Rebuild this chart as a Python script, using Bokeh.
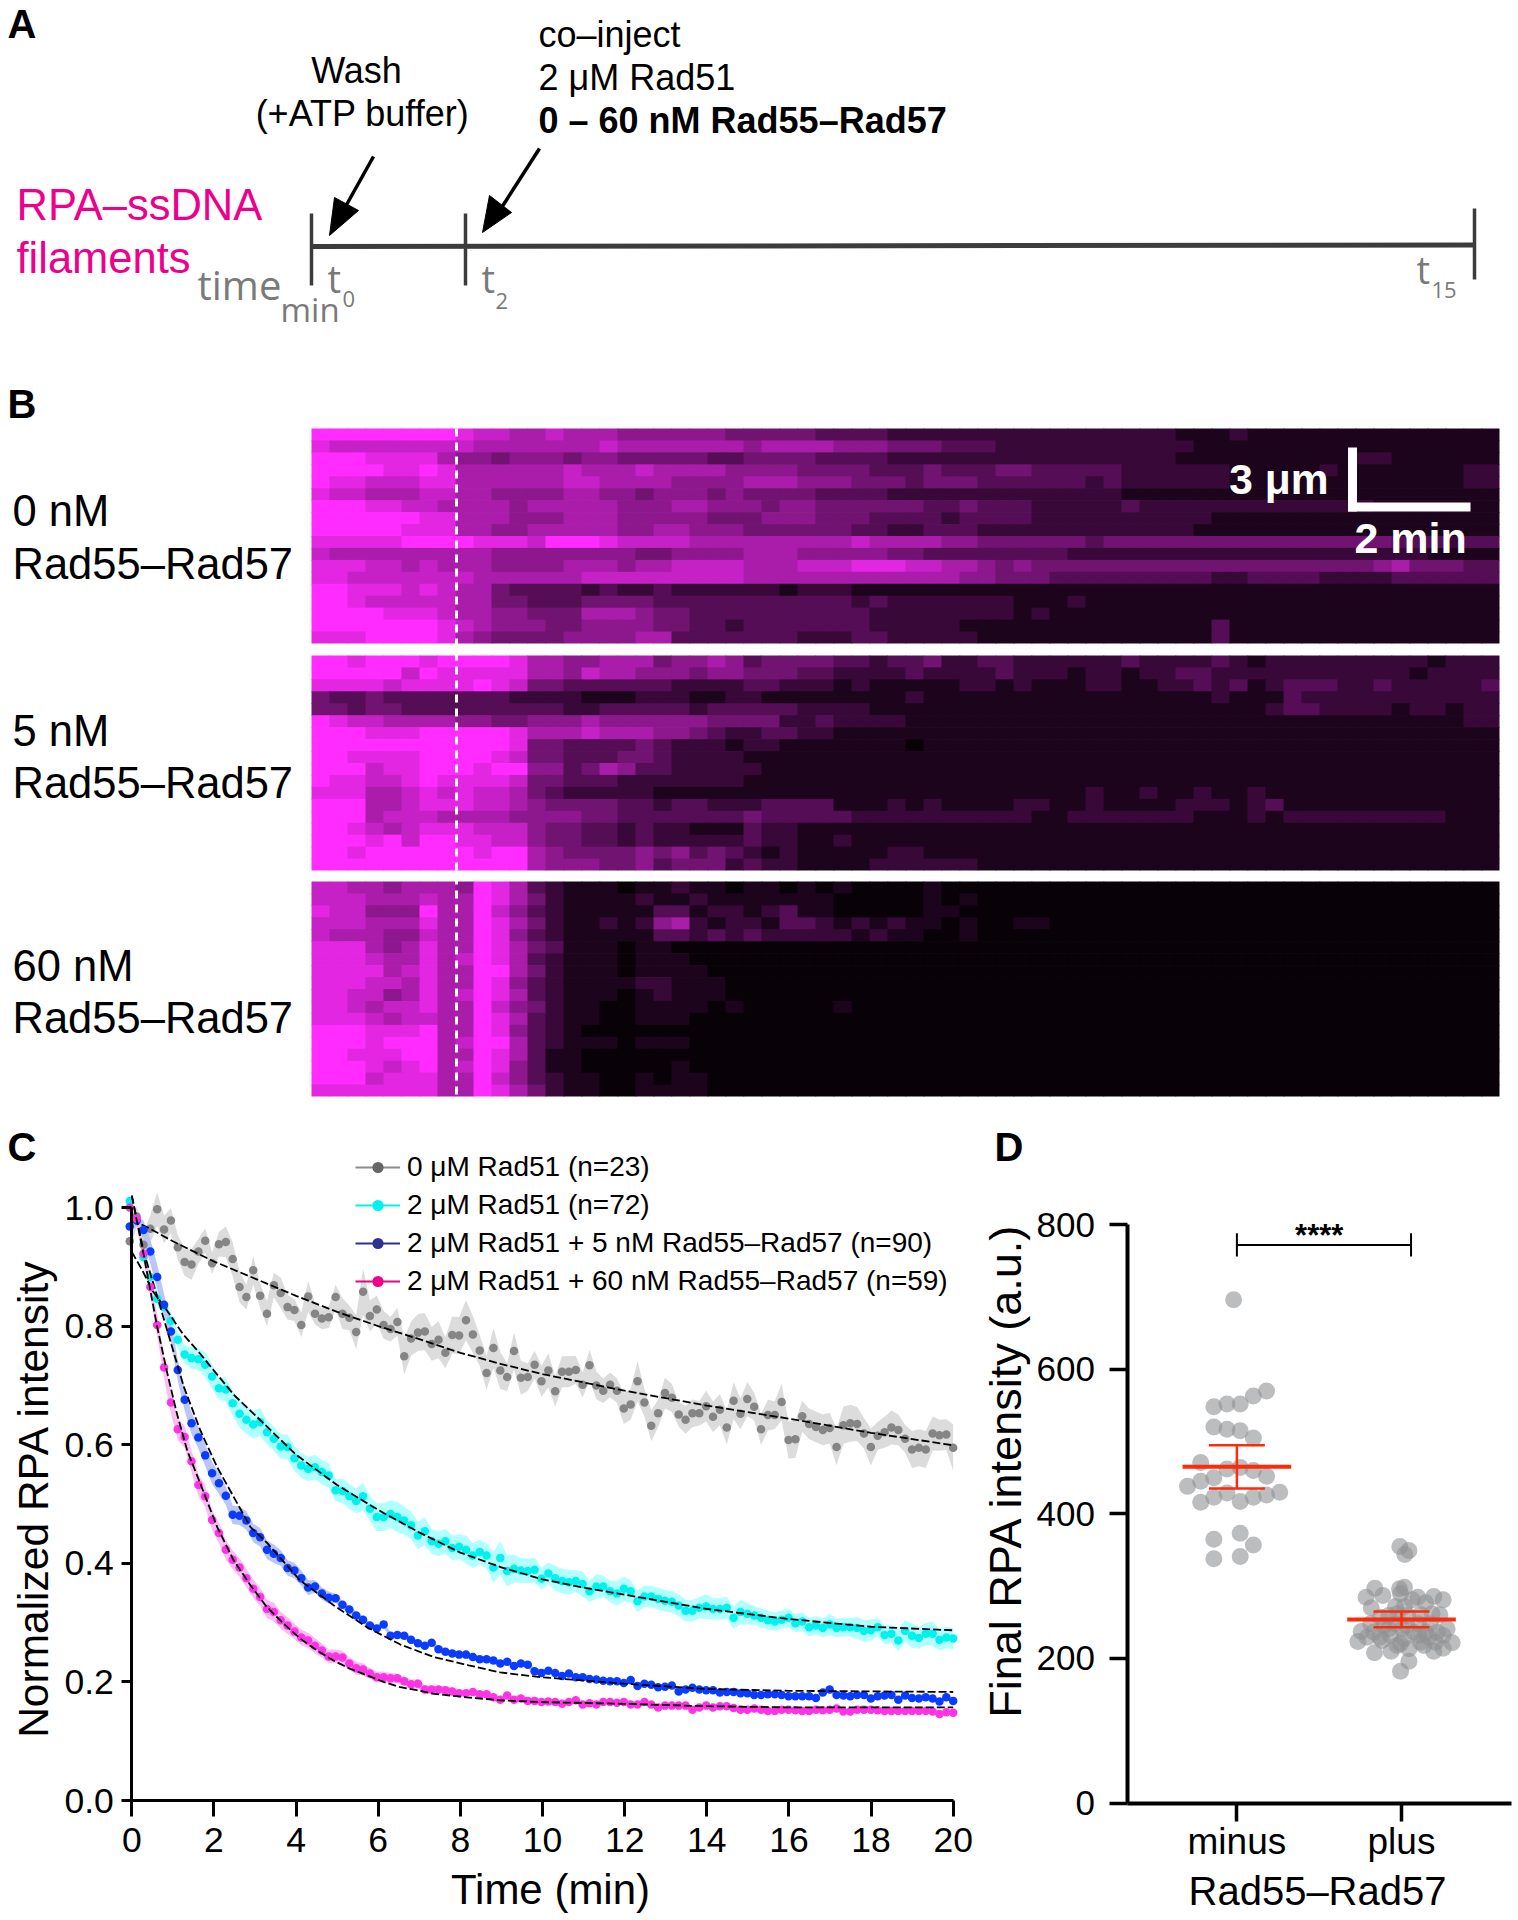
import numpy as np
from bokeh.plotting import figure
from bokeh.layouts import column, row
from bokeh.models import Range1d, Legend, LegendItem, FixedTicker
from bokeh.core.properties import value
from bokeh.embed import file_html
from bokeh.resources import INLINE

SANS = "Liberation Sans"
SOFT = "Open Sans"

# ---------------------------------------------------- panel C values
gray_vals = [.943,.985,.937,.964,.997,.963,.978,.933,.908,.904,.926,.944,.906,.938,.942,.913,.866,.849,.894,.851,.821,.869,.856,.832,.827,.802,.850,.821,.813,.815,.849,.821,.814,.790,.858,.817,.828,.802,.795,.807,.749,.779,.789,.791,.770,.777,.755,.785,.784,.810,.786,.759,.721,.763,.725,.714,.758,.713,.714,.735,.707,
 .725,.690,.723,.723,.726,.701,.734,.700,.691,.701,.691,.661,.668,.707,.671,.632,.653,.687,.679,.651,.642,.653,.653,.665,.647,.659,.629,.674,.652,.677,.664,.626,.650,.650,.672,.608,.609,.648,.635,.630,.625,.628,.596,.633,.636,.635,.619,.596,.615,.621,.629,.625,.610,.592,.595,.592,.619,.616,.617,.595]
cyan_vals = [1.011,.978,.916,.883,.846,.832,.809,.777,.752,.746,.744,.735,.715,.695,.693,.670,.652,.642,.634,.638,.621,.610,.597,.596,.577,.565,.559,.562,.554,.548,.523,.522,.513,.505,.513,.492,.478,.478,.483,.478,.472,.464,.447,.454,.437,.433,.437,.426,.428,.423,.413,.419,.413,.393,.409,.387,.391,.388,.387,.389,.374,
 .383,.375,.370,.368,.370,.365,.353,.361,.361,.353,.349,.357,.353,.336,.344,.344,.340,.337,.335,.329,.320,.320,.325,.327,.323,.323,.325,.308,.318,.315,.312,.308,.304,.302,.305,.308,.299,.302,.292,.295,.291,.297,.291,.292,.292,.291,.286,.287,.292,.279,.281,.270,.286,.278,.274,.281,.281,.271,.275,.273]
blue_vals = [.968,.978,.962,.926,.883,.836,.791,.726,.676,.636,.612,.582,.552,.535,.514,.482,.480,.472,.451,.444,.423,.416,.409,.392,.388,.375,.359,.361,.349,.342,.341,.330,.322,.312,.305,.295,.290,.297,.278,.279,.278,.271,.265,.261,.266,.255,.251,.248,.246,.246,.242,.238,.238,.236,.231,.234,.227,.231,.229,.218,.215,
 .219,.215,.210,.214,.208,.208,.205,.204,.202,.201,.201,.198,.203,.193,.197,.195,.191,.192,.194,.184,.187,.190,.187,.186,.186,.182,.183,.183,.181,.181,.178,.178,.179,.179,.178,.176,.176,.176,.176,.173,.182,.187,.178,.177,.176,.178,.178,.172,.176,.177,.178,.170,.177,.173,.172,.174,.172,.167,.174,.168]
magenta_vals = [1.0,.981,.922,.866,.802,.730,.671,.626,.613,.572,.532,.513,.473,.451,.423,.406,.393,.375,.357,.343,.323,.318,.304,.295,.285,.275,.270,.261,.253,.243,.243,.241,.231,.223,.221,.214,.208,.208,.206,.206,.201,.196,.197,.187,.187,.187,.186,.184,.181,.181,.183,.179,.179,.174,.170,.177,.170,.172,.168,.168,.166,
 .167,.166,.163,.166,.169,.162,.164,.162,.166,.166,.165,.166,.162,.162,.166,.162,.157,.160,.160,.160,.160,.153,.157,.160,.157,.159,.159,.156,.153,.153,.155,.153,.151,.151,.153,.153,.152,.151,.151,.153,.152,.153,.155,.150,.150,.153,.153,.153,.152,.151,.151,.151,.151,.151,.151,.151,.150,.146,.149,.148]

gray_sem = [.012,.014,.016,.018,.022,.018,.016,.016,.018,.020,.016,.016,.014,.016,.020,.022,.020,.016,.018,.016,.016,.016,.020,.016,.014,.016,.020,.014,.014,.014,.016,.020,.016,.022,.030,.020,.018,.018,.016,.018,.024,.022,.024,.024,.022,.024,.020,.024,.024,.026,.024,.020,.022,.026,.024,.018,.024,.022,.018,.018,.020,
 .022,.020,.020,.020,.018,.016,.020,.018,.016,.016,.016,.020,.020,.026,.018,.020,.018,.020,.018,.016,.018,.018,.016,.020,.020,.020,.022,.024,.020,.022,.018,.020,.020,.018,.024,.024,.024,.020,.020,.020,.020,.020,.024,.024,.024,.022,.020,.024,.018,.020,.022,.020,.018,.024,.024,.024,.022,.020,.020,.030]
cyan_sem = [.006,.008,.008,.008,.010,.010,.010,.010,.012,.014,.014,.016,.016,.014,.016,.016,.018,.018,.018,.018,.016,.016,.016,.016,.016,.016,.016,.016,.016,.016,.014,.016,.016,.016,.018,.016,.018,.018,.018,.020,.018,.018,.018,.018,.016,.016,.016,.016,.016,.018,.016,.016,.016,.020,.022,.020,.018,.016,.016,.016,.014,
 .014,.016,.016,.016,.014,.016,.014,.016,.014,.014,.016,.016,.014,.014,.014,.014,.014,.014,.014,.014,.014,.014,.014,.016,.014,.014,.014,.014,.016,.014,.012,.012,.012,.012,.012,.012,.012,.012,.012,.012,.012,.014,.012,.012,.012,.014,.014,.014,.012,.012,.012,.014,.014,.016,.014,.014,.016,.014,.014,.014]
blue_sem = [.006,.008,.012,.016,.016,.014,.014,.014,.014,.014,.014,.014,.014,.014,.012,.012,.012,.012,.012,.012,.012,.012,.010,.010,.010,.010,.010,.008,.008,.008,.006,.005,.005,.005,.004,.004,.004,.004,.004,.004,.004,.004,.004,.004,.004,.004,.004,.004,.004,.004,.004,.004,.004,.004,.004,.004,.004,.004,.004,.004,.004,
 .003,.003,.003,.003,.003,.003,.003,.003,.003,.003,.003,.003,.003,.003,.003,.003,.003,.003,.003,.003,.003,.003,.003,.003,.003,.003,.003,.003,.003,.003,.003,.003,.003,.003,.003,.003,.003,.003,.003,.003,.003,.003,.003,.003,.003,.003,.003,.003,.003,.003,.003,.003,.003,.003,.003,.003,.003,.003,.003,.003]
magenta_sem = [.006,.008,.010,.012,.014,.014,.014,.014,.014,.014,.014,.014,.013,.013,.013,.012,.012,.012,.012,.012,.012,.012,.011,.011,.010,.010,.010,.010,.009,.009,.009,.009,.008,.008,.008,.007,.007,.007,.007,.006,.006,.006,.006,.006,.005,.005,.005,.005,.005,.004,.004,.004,.004,.004,.004,.004,.004,.004,.004,.004,.004,
 .004,.004,.004,.004,.004,.004,.004,.003,.003,.003,.003,.003,.003,.003,.003,.003,.003,.003,.003,.003,.003,.003,.003,.003,.003,.003,.003,.003,.003,.003,.003,.003,.003,.003,.003,.003,.003,.003,.003,.003,.003,.003,.003,.003,.003,.003,.003,.003,.003,.003,.003,.003,.003,.003,.003,.003,.003,.003,.003,.003]

gray_fit_t = [0,.5,1,2,3,4,5,6,7,8,9,10,12,14,16,18,20]
gray_fit = [.98,.962,.943,.909,.880,.851,.824,.800,.778,.755,.736,.719,.691,.666,.644,.620,.599]
cyan_fit_t = [0,.25,.5,.86,1.25,1.67,2,2.5,3,4,5,6,7,8,9,10,11,12,13,14,16,18,20]
cyan_fit = [.925,.895,.86,.826,.786,.753,.725,.683,.650,.583,.532,.490,.452,.418,.393,.373,.359,.347,.335,.323,.306,.293,.287]
blue_fit_t = [0,.29,.62,.86,1.27,1.67,2.08,2.48,2.89,3.3,4.1,4.92,5.73,6.54,7.35,8.2,8.97,9.95,12,14,16,18,20]
blue_fit = [1.02,.925,.85,.793,.697,.624,.562,.512,.461,.434,.371,.329,.292,.263,.242,.228,.216,.208,.197,.188,.185,.184,.183]
magenta_fit_t = [0,.29,.62,.86,1.1,1.35,1.67,2.08,2.48,2.89,3.29,3.7,4.1,4.51,4.91,5.32,5.73,6.13,6.54,6.94,7.35,8.16,8.97,9.94,12,14,16,18,20]
magenta_fit = [1.02,.92,.798,.722,.652,.590,.534,.461,.405,.363,.326,.298,.273,.253,.236,.222,.211,.200,.191,.186,.180,.174,.169,.166,.163,.159,.157,.157,.157]

legend_labels = ["0 μM Rad51 (n=23)", "2 μM Rad51 (n=72)",
                 "2 μM Rad51 + 5 nM Rad55–Rad57 (n=90)", "2 μM Rad51 + 60 nM Rad55–Rad57 (n=59)"]
x_ticks_c = [0,2,4,6,8,10,12,14,16,18,20]
y_ticks_c = [0.0,0.2,0.4,0.6,0.8,1.0]

# ---------------------------------------------------- panel D values
minus_x = [-.02,.18,.10,.02,-.06,-.14,-.14,-.06,.02,.10,-.22,-.06,.02,.10,.18,-.14,-.22,-.30,.26,.18,.10,.02,-.06,-.14,-.22,.02,-.14,.10,.02,-.14]
minus_y = [696,570,563,552,552,548,520,517,515,505,471,462,464,460,452,450,445,438,430,426,423,417,429,423,416,373,365,357,341,338]
plus_x = [1.990,2.045,2.020,1.838,1.988,2.018,1.785,1.887,1.994,2.099,2.196,2.253,1.816,1.964,2.018,2.065,2.146,1.872,1.923,1.974,2.038,2.115,2.186,2.233,1.812,1.893,1.964,2.034,2.105,2.176,1.755,1.832,1.923,2.004,2.075,2.146,2.217,2.277,1.791,1.868,1.933,2.014,2.105,2.166,2.253,1.735,1.883,1.994,2.115,2.207,2.308,1.836,1.937,2.045,2.196,2.253,2.136,1.974,2.045,1.994]
plus_y = [354.8,349.3,343.8,297.2,296.3,298.6,284.7,287.0,289.4,284.7,285.7,281.0,270.0,271.8,271.8,281.0,276.9,257.1,259.4,261.7,259.4,260.8,261.7,260.3,247.9,245.6,247.9,245.6,247.9,247.9,237.2,236.3,240.9,240.9,236.3,236.3,236.3,240.9,229.4,229.4,231.7,227.1,231.7,229.4,231.7,223.4,224.8,220.2,222.5,222.5,221.6,207.7,210.0,213.3,210.0,214.2,217.9,217.9,196.2,182.4]
group_pos = [1, 2]
group_names = ["minus", "plus"]
group_mean = [465, 254]
group_hi = [495, 265]
group_lo = [435, 243]
y_ticks_d = [0,200,400,600,800]

# ---------------------------------------------------- kymographs (levels 0-9, estimated by eye)
kymo_0 = [
"999999 998776 676665 555554 444433 332222 222222 222222 111211 111111 111111",
"877777 777666 666676 666666 566665 554443 332222 222222 211111 111111 111111",
"999888 865545 554554 444433 444433 332222 222222 222222 111111 111122 111111",
"999988 986666 667666 766665 555444 433343 334433 333222 222111 112111 111122",
"988777 886666 667766 665555 666555 444344 433333 323222 222111 111111 111122",
"877666 776655 556655 455545 444433 332222 222222 222111 111111 111111 111111",
"999887 766665 666665 556655 545544 444433 433322 222322 222222 222221 111111",
"999999 886665 556665 555544 455544 433332 333322 222222 221111 111111 111111",
"999998 886655 666665 566555 444444 332233 322222 222222 211111 111111 111111",
"888889 999888 799987 777666 666666 766665 544444 434444 444444 444444 333233",
"766666 666655 555555 445555 666555 554433 333333 222222 222222 222222 221111",
"888776 766655 556665 667777 666777 888776 654544 444444 444444 444445 644433",
"887777 777666 666777 777777 666666 666666 554443 333333 332233 332222 333333",
"998887 876643 333232 232222 221222 111111 111111 111111 111111 111111 111111",
"998777 776644 333444 433333 333333 232222 222111 211111 111111 111111 111111",
"999988 876655 444666 544333 333333 322222 222121 111111 111111 111111 111111",
"999999 987655 544555 544332 333333 322222 111111 111111 113111 111111 111111",
"888999 986544 445555 663333 333222 332222 211111 111111 113111 111111 111111",
]
kymo_5 = [
"998999 899998 665566 645565 344443 323342 233222 222322 223212 222222 221222",
"999997 988888 665766 555455 444332 222322 223222 122122 332222 222222 212222",
"888878 888987 443333 332222 332221 211111 221211 122112 232312 333223 222223",
"433433 333332 222111 222112 211111 111211 111111 111111 112111 322222 222222",
"443443 333333 332233 333233 333222 211111 111111 111111 111112 332222 122122",
"987766 665544 555655 555544 442232 222111 111111 111111 111111 111111 111122",
"999888 999998 666766 655432 233221 111111 111111 111111 111111 111111 111111",
"999999 999998 443333 432221 221111 111011 111111 111111 111111 111111 111111",
"998888 999987 443334 432222 111111 111111 111111 111111 111111 111111 111111",
"999788 999899 553465 332222 211111 111111 111111 111111 111111 111111 111111",
"988778 988887 443332 222222 111111 111111 111111 111111 111111 111111 111111",
"888667 878776 432222 211111 111111 111111 111111 121121 121121 111111 111111",
"999667 888776 544443 323322 233331 112121 111221 121111 222123 111111 111111",
"999677 766665 555443 333333 433333 222222 222211 222222 211121 222222 222111",
"998767 888777 544332 322111 322111 111111 111111 111111 111111 111111 111111",
"999897 998877 544332 322222 322112 111111 111111 111111 111111 111111 111111",
"998999 999899 654444 545343 212111 112211 111111 111111 111111 111111 111111",
"999999 999999 655544 534442 322111 122222 211111 111111 111111 111111 111111",
]
kymo_60 = [
"776656 665986 321110 112110 110101 000010 000000 000000 000000 000000 000000",
"777666 766986 421111 211211 111110 000010 100000 000000 000000 000000 000000",
"877555 966975 321111 133122 123110 000011 000000 000000 000000 000000 000000",
"777666 866986 421121 256212 213321 212110 100110 000000 000000 000000 000000",
"766655 766985 321111 133232 322222 121100 100000 000000 000000 000000 000000",
"888656 866986 431110 110000 000000 000000 000000 000000 000000 000000 000000",
"888766 867986 321110 111000 000000 000000 000000 000000 000000 000000 000000",
"888867 866996 421110 111100 000000 000000 000000 000000 000000 000000 000000",
"888776 866985 321111 221110 000000 000000 000000 000000 000000 000000 000000",
"887756 867986 321110 121110 000000 000000 000000 000000 000000 000000 000000",
"887677 866975 421100 111101 000001 000000 000000 000000 000000 000000 000000",
"888767 766986 321100 111000 000000 000000 000000 000000 000000 000000 000000",
"999888 966985 321000 000000 000000 000000 000000 000000 000000 000000 000000",
"999899 967996 321110 111000 000000 000000 000000 000000 000000 000000 000000",
"998889 966986 311000 000000 000000 000000 000000 000000 000000 000000 000000",
"999878 967985 311000 001000 000000 000000 000000 000000 000000 000000 000000",
"999788 866975 321100 101100 000000 000000 000000 000000 000000 000000 000000",
"888888 866986 421100 111100 000000 000000 000000 000000 000000 000000 000000",
]

# ====================================================== top figure: panels A and B
top = figure(width=1518, height=1124, x_range=Range1d(0, 1518), y_range=Range1d(1124, 0),
             toolbar_location=None, output_backend="svg", min_border=0, outline_line_color=None,
             x_axis_type=None, y_axis_type=None)
top.grid.visible = False

def put(fig, x, y, s, size, color="black", style="normal", align="left", font=SANS, angle=0.0):
    fig.text([x], [y], text=[s], text_font=value(font), text_font_size=f"{size}px", text_color=color,
             text_font_style=style, text_align=align, text_baseline="middle", angle=angle)

PANEL = 40
put(top, 7, 23, "A", PANEL, style="bold")
put(top, 7, 403, "B", PANEL, style="bold")

put(top, 356, 70, "Wash", 36, align="center")
put(top, 362, 113, "(+ATP buffer)", 36, align="center")
put(top, 538, 34, "co–inject", 36)
put(top, 538, 77, "2 μM Rad51", 36)
put(top, 538, 120, "0 – 60 nM Rad55–Rad57", 36, style="bold")
put(top, 16, 204, "RPA–ssDNA", 43.5, color="#ec008c")
put(top, 16, 257, "filaments", 43.5, color="#ec008c")

GREY = "#7a7a7a"
put(top, 197, 284, "time", 40, color=GREY, font=SOFT)
put(top, 280, 309, "min", 33, color=GREY, font=SOFT)
put(top, 327, 277, "t", 38, color=GREY, font=SOFT)
put(top, 342, 298, "0", 22, color=GREY, font=SOFT)
put(top, 481, 277, "t", 38, color=GREY, font=SOFT)
put(top, 495, 300, "2", 22, color=GREY, font=SOFT)
put(top, 1416, 268, "t", 38, color=GREY, font=SOFT)
put(top, 1431, 289, "15", 22, color=GREY, font=SOFT)

LINE = "#3c3c3c"
top.line([311, 1474], [246, 244.5], line_color=LINE, line_width=5)
top.segment([311, 465, 1474], [213, 213, 208], [311, 465, 1474], [285, 285, 279], line_color=LINE, line_width=3.5)
top.segment([373, 539], [156, 148], [340, 496], [215, 215], line_color="black", line_width=3.5)
top.patches([[329, 334, 358], [482, 489, 511]], [[235, 197, 210], [232, 195, 212]], fill_color="black", line_color="black")

put(top, 12, 510, "0 nM", 43.5)
put(top, 12, 563, "Rad55–Rad57", 43.5)
put(top, 12, 730, "5 nM", 43.5)
put(top, 12, 782, "Rad55–Rad57", 43.5)
put(top, 12, 965, "60 nM", 43.5)
put(top, 12, 1017, "Rad55–Rad57", 43.5)

def kymograph(fig, rows, y_top):
    cols = 66
    n = len(rows)
    cell_w, cell_h = (1499 - 311) / cols, 215.0 / n
    l, r, t, b, c = [], [], [], [], []
    for j, rw in enumerate(rows):
        levels = rw.replace(" ", "")
        for i, ch in enumerate(levels):
            f = max(int(ch) / 9.0, 0.035)
            c.append("#%02x%02x%02x" % (int(255 * f), int(43 * f), int(255 * f)))
            l.append(311 + i * cell_w)
            r.append(311 + (i + 1) * cell_w + (0.7 if i < cols - 1 else 0))
            t.append(y_top + j * cell_h)
            b.append(y_top + (j + 1) * cell_h + (0.7 if j < n - 1 else 0))
    fig.quad(left=l, right=r, top=t, bottom=b, fill_color=c, line_color=None)

kymograph(top, kymo_0, 428)
kymograph(top, kymo_5, 655)
kymograph(top, kymo_60, 881)

top.line([456, 456], [428, 1095], line_color="white", line_width=3, line_dash="8 6")
top.segment([1352, 1347.5], [447, 506.5], [1352, 1470], [511, 506.5], line_color="white", line_width=9)
put(top, 1328, 479, "3 μm", 42.5, color="white", style="bold", align="right")
put(top, 1354, 537, "2 min", 43, color="white", style="bold")

# ====================================================== panel C
n_c = 121
BAND = 1.3
times = -0.05 + np.arange(n_c) * 20.05 / 120
PX_T = 41.07
PX_Y = 593.0
def cx(px): return (px - 131.3) / PX_T
def cy(py): return (1800 - py) / PX_Y

cfig = figure(width=980, height=796,
              x_range=Range1d(cx(0), cx(980)),
              y_range=Range1d(cy(1920), cy(1124)),
              toolbar_location=None, output_backend="svg", outline_line_color=None,
              min_border_left=0, min_border_right=0, min_border_top=0, min_border_bottom=0)
cfig.grid.visible = False

def size_to(a):
    a = list(a)[:n_c]
    return np.array(a + [a[-1]] * (n_c - len(a)))

series = [
    (gray_vals, gray_sem, "#dcdcdc", "#858585", gray_fit_t, gray_fit, "#8c8c8c", "#666666"),
    (cyan_vals, cyan_sem, "#b2ffff", "#00f2ee", cyan_fit_t, cyan_fit, "#00f2ee", "#00f2ee"),
    (blue_vals, blue_sem, "#b9c6f7", "#0a3cff", blue_fit_t, blue_fit, "#2e3192", "#2e3192"),
    (magenta_vals, magenta_sem, "#fbbdf4", "#ff33e6", magenta_fit_t, magenta_fit, "#ec008c", "#ec008c"),
]
items = []
for (vals, sem, band, dot, ft, fv, lg_line, lg_dot), lab in zip(series, legend_labels):
    v, s = size_to(vals), size_to(sem) * BAND
    cfig.varea(times, v - s, v + s, fill_color=band)
for (vals, sem, band, dot, ft, fv, lg_line, lg_dot), lab in zip(series, legend_labels):
    v = size_to(vals)
    cfig.scatter(times, v, size=8.5, fill_color=dot, line_color=None)
    cfig.line(ft, fv, line_color="black", line_width=1.8, line_dash="8 3")
    rl = cfig.line(x=[float("nan")], y=[float("nan")], line_color=lg_line, line_width=2.2)
    rd = cfig.scatter(x=[float("nan")], y=[float("nan")], size=11, fill_color=lg_dot, line_color=None)
    items.append(LegendItem(label=lab, renderers=[rl, rd]))

leg = Legend(items=items, location=(355, 623), background_fill_alpha=0, border_line_color=None,
             padding=0, margin=0, spacing=6, label_height=20, glyph_height=28, glyph_width=45, label_standoff=7,
             label_text_font=SANS, label_text_font_size="28px", label_text_color="black")
cfig.add_layout(leg)

xa, ya = cfig.xaxis[0], cfig.yaxis[0]
xa.ticker = FixedTicker(ticks=x_ticks_c)
ya.ticker = FixedTicker(ticks=y_ticks_c)
ya.fixed_location = 0
xa.fixed_location = 0
xa.bounds = (0, 20)
ya.bounds = (0, 1.0)
xa.major_label_overrides = {t: str(t) for t in x_ticks_c}
ya.major_label_overrides = {t: f"{t:.1f}" for t in y_ticks_c}
for ax, out in ((xa, 16), (ya, 10)):
    ax.major_tick_out = out
    ax.major_tick_in = 0
    ax.minor_tick_out = 0
    ax.minor_tick_in = 0
    ax.major_tick_line_width = 3
    ax.axis_line_width = 3
    ax.major_tick_line_color = "black"
    ax.axis_line_color = "black"
    ax.major_label_text_font = SANS
    ax.major_label_text_font_size = "35.5px"
    ax.major_label_text_color = "black"
xa.major_label_standoff = 11
ya.major_label_standoff = 8
put(cfig, cx(550), cy(1889), "Time (min)", 42, align="center")
put(cfig, cx(33), cy(1498), "Normalized RPA intensity", 42.5, align="center", angle=np.pi / 2)
put(cfig, cx(7), cy(1146), "C", PANEL, style="bold")

# ====================================================== panel D
PX_G = 164.6
PX_V = 0.7229
def dx(px): return 1 + (px - 1236.4) / PX_G
def dy(py): return (1802.5 - py) / PX_V

dfig = figure(width=538, height=796,
              x_range=Range1d(dx(980), dx(1518)),
              y_range=Range1d(dy(1920), dy(1124)),
              toolbar_location=None, output_backend="svg", outline_line_color=None,
              min_border_left=0, min_border_right=0, min_border_top=0, min_border_bottom=0)
dfig.grid.visible = False

POINT = "#8f9193"
dfig.scatter([1 + v for v in minus_x], minus_y, size=17, fill_color=POINT, fill_alpha=0.6, line_color=None)
dfig.scatter(plus_x, plus_y, size=17, fill_color=POINT, fill_alpha=0.6, line_color=None)

RED = "#ff2a0a"
gp = np.array(group_pos, dtype=float)
dfig.segment(gp - .33, group_mean, gp + .33, group_mean, line_color=RED, line_width=4)
dfig.segment(gp - .17, group_hi, gp + .17, group_hi, line_color=RED, line_width=2.5)
dfig.segment(gp - .17, group_lo, gp + .17, group_lo, line_color=RED, line_width=2.5)
dfig.segment(gp, group_lo, gp, group_hi, line_color=RED, line_width=2.5)

dfig.line([1, 1, 1, 2.058, 2.058, 2.058], [788, 756, 772, 772, 756, 788], line_color="black", line_width=2)
put(dfig, 1.5, 785, "****", 31, style="bold", align="center")

xa, ya = dfig.xaxis[0], dfig.yaxis[0]
xa.ticker = FixedTicker(ticks=group_pos)
xa.major_label_overrides = dict(zip(group_pos, group_names))
ya.ticker = FixedTicker(ticks=y_ticks_d)
xa.fixed_location = 0
ya.fixed_location = dx(1127.4)
xa.bounds = (dx(1127.4), dx(1511))
ya.bounds = (0, 800)
for ax in (xa, ya):
    ax.major_tick_out = 18
    ax.major_tick_in = 0
    ax.minor_tick_out = 0
    ax.minor_tick_in = 0
    ax.major_tick_line_width = 3.5
    ax.axis_line_width = 4
    ax.major_tick_line_color = "black"
    ax.axis_line_color = "black"
    ax.major_label_text_font = SANS
    ax.major_label_text_font_size = "35px"
    ax.major_label_text_color = "black"
xa.major_label_text_font_size = "37px"
xa.major_label_standoff = 0
ya.major_label_standoff = 15
put(dfig, dx(1317), dy(1890), "Rad55–Rad57", 40, align="center")
put(dfig, dx(1005), dy(1470), "Final RPA intensity (a.u.)", 45, align="center", angle=np.pi / 2)
put(dfig, dx(994), dy(1146), "D", PANEL, style="bold")

page = column(top, row(cfig, dfig, spacing=0), spacing=0)
open("out.html", "w").write(file_html(page, INLINE))
